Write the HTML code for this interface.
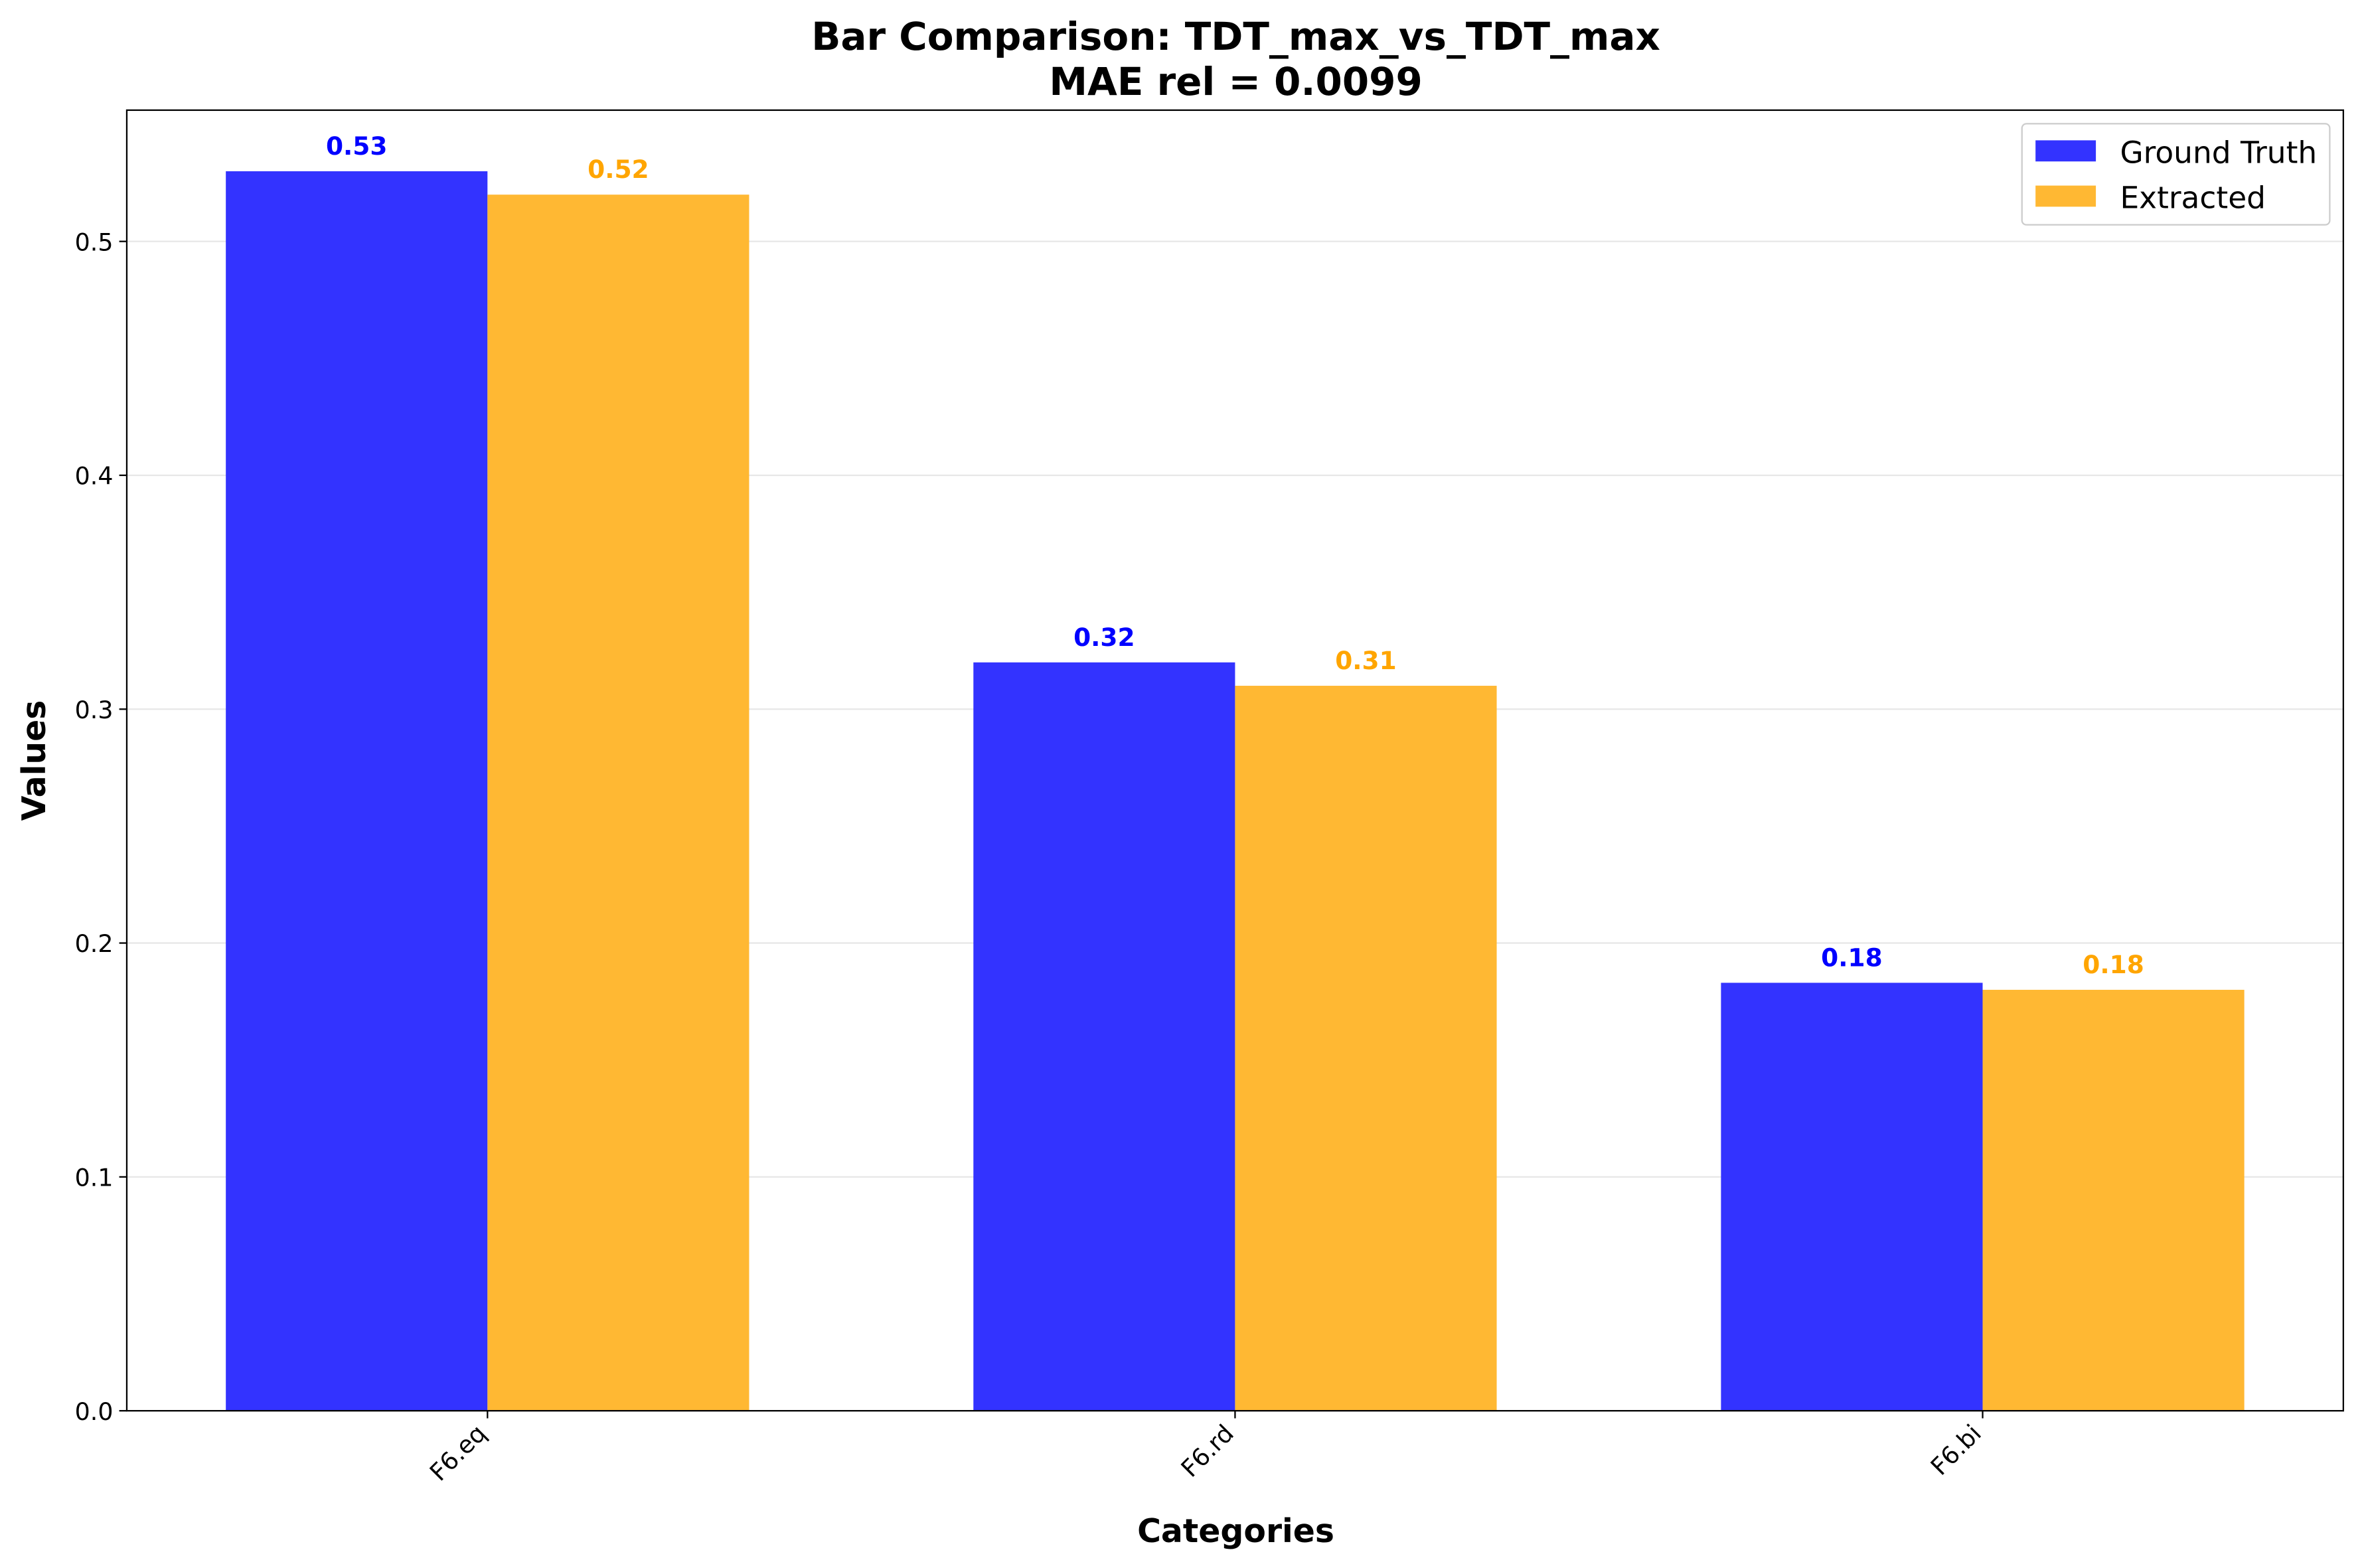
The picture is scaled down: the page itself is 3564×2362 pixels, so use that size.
<!DOCTYPE html>
<html><head><meta charset="utf-8"><style>html,body{margin:0;padding:0;background:#fff}svg{display:block}text{font-family:"DejaVu Sans","Liberation Sans",sans-serif}</style></head>
<body>
<svg width="3564" height="2362" viewBox="0 0 1568 1039.2" xmlns="http://www.w3.org/2000/svg">
<rect width="1568" height="1040" fill="#fff"/>
<g id="grid"></g>
<g id="bars"></g>
<g id="labels"></g>
<rect x="84" y="73" width="1469" height="862" fill="none" stroke="#000" stroke-width="1"/>
<g id="yticks"></g>
<g id="xticks"></g>
<text x="819" y="33" text-anchor="middle" font-size="25.5" font-weight="bold">Bar Comparison: TDT_max_vs_TDT_max</text>
<text x="819" y="63" text-anchor="middle" font-size="25.5" font-weight="bold">MAE rel = 0.0099</text>
<text x="819" y="1022" text-anchor="middle" font-size="21.5" font-weight="bold">Categories</text>
<text transform="translate(30,504) rotate(-90)" text-anchor="middle" font-size="21.5" font-weight="bold">Values</text>
<g>
<rect x="1340" y="82" width="204" height="67" rx="3" fill="#fff" fill-opacity="0.8" stroke="#ccc"/>
<rect x="1349" y="93" width="40" height="14" fill="#3333ff"/>
<text x="1405" y="108" font-size="20">Ground Truth</text>
<rect x="1349" y="123" width="40" height="14" fill="#ffb833"/>
<text x="1405" y="138" font-size="20">Extracted</text>
</g>
</svg>
<script>
const categories = ["F6.eq", "F6.rd", "F6.bi"];
const groundTruth = [0.53, 0.32, 0.183];
const extracted = [0.52, 0.31, 0.18];
const gtLabels = ["0.53", "0.32", "0.18"];
const exLabels = ["0.52", "0.31", "0.18"];
const yTicks = [0, 0.1, 0.2, 0.3, 0.4, 0.5];

const NS = "http://www.w3.org/2000/svg";
const L = 84, R = 1553, T = 73, B = 935;
const xmin = -0.4825, xmax = 2.4825, ymax = (B - T) / 1550;
const xs = v => L + (v - xmin) / (xmax - xmin) * (R - L);
const ys = v => B - v / ymax * (B - T);
const W = 0.35;
function mk(tag, attrs, parent) {
  const e = document.createElementNS(NS, tag);
  for (const k in attrs) e.setAttribute(k, attrs[k]);
  document.getElementById(parent).appendChild(e);
  return e;
}
yTicks.forEach(t => {
  const g = mk("line", {x1: L, x2: R, y1: ys(t), y2: ys(t), stroke: "#b0b0b0", "stroke-opacity": 0.3, "stroke-width": 1}, "grid");
  
  
  const tk = mk("line", {x1: L - 5, x2: L, y1: ys(t), y2: ys(t), stroke: "#000"}, "yticks");
  
  
  const tx = mk("text", {x: L - 9, y: ys(t) + 6, "text-anchor": "end", "font-size": 16}, "yticks");
  tx.textContent = t.toFixed(1);
  
  
});
categories.forEach((c, i) => {
  const x0 = xs(i - W), x1 = xs(i), x2 = xs(i + W);
  const b1 = mk("rect", {x: x0, y: ys(groundTruth[i]), width: x1 - x0, height: ys(0) - ys(groundTruth[i]), fill: "#3333ff"}, "bars");
  
  
  const b2 = mk("rect", {x: x1, y: ys(extracted[i]), width: x2 - x1, height: ys(0) - ys(extracted[i]), fill: "#ffb833"}, "bars");
  
  
  const l1 = mk("text", {x: xs(i - W / 2), y: ys(groundTruth[i]) - 11, "text-anchor": "middle", "font-size": 16.5, "font-weight": "bold", fill: "blue"}, "labels");
  l1.textContent = gtLabels[i];
  
  
  const l2 = mk("text", {x: xs(i + W / 2), y: ys(extracted[i]) - 11, "text-anchor": "middle", "font-size": 16.5, "font-weight": "bold", fill: "orange"}, "labels");
  l2.textContent = exLabels[i];
  
  
  const tk = mk("line", {x1: xs(i), x2: xs(i), y1: B, y2: B + 5, stroke: "#000"}, "xticks");
  
  
  const tx = mk("text", {transform: "translate(" + (xs(i)) + "," + (B + 16) + ") rotate(-45)", "text-anchor": "end", "font-size": 16}, "xticks");
  tx.textContent = c;
  
  
});
</script>
</body></html>
